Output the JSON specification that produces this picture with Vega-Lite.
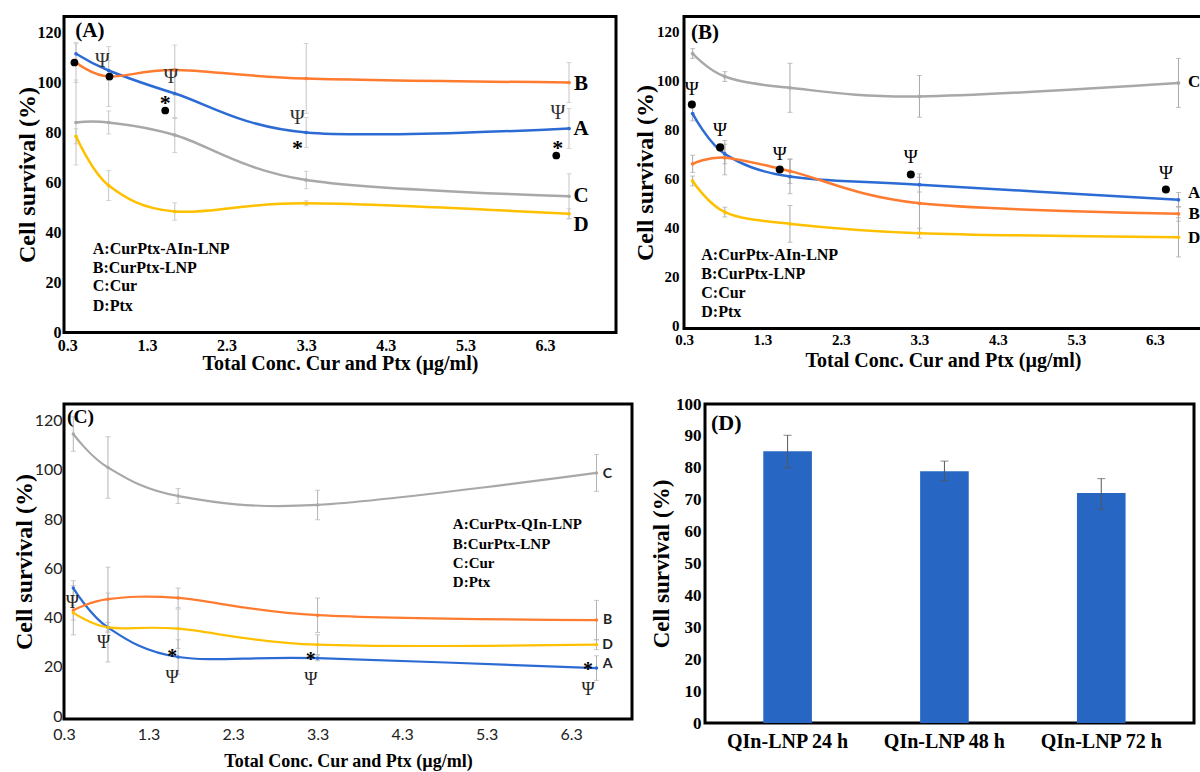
{
  "$schema": "https://vega.github.io/schema/vega-lite/v6.json",
  "background": "white",
  "padding": {"left": 10, "top": 14.5, "right": 0, "bottom": 0},
  "config": {"view": {"stroke": "black", "strokeWidth": 3}},
  "spacing": 17.5,
  "datasets": {
    "linesA": [
      {"s": "A", "x": 0.41, "y": 111.5, "lo": 107.5, "hi": 115.5},
      {"s": "A", "x": 0.82, "y": 104.8, "lo": 100.8, "hi": 108.8},
      {"s": "A", "x": 1.65, "y": 95.6, "lo": 85.6, "hi": 105.6},
      {"s": "A", "x": 3.3, "y": 80, "lo": 74, "hi": 86},
      {"s": "A", "x": 6.6, "y": 81.6, "lo": 73.6, "hi": 89.6},
      {"s": "B", "x": 0.41, "y": 108, "lo": 100, "hi": 116},
      {"s": "B", "x": 0.82, "y": 102.4, "lo": 90.4, "hi": 114.4},
      {"s": "B", "x": 1.65, "y": 105, "lo": 95, "hi": 115},
      {"s": "B", "x": 3.3, "y": 101.6, "lo": 87.6, "hi": 115.6},
      {"s": "B", "x": 6.6, "y": 100, "lo": 92, "hi": 108},
      {"s": "C", "x": 0.41, "y": 84, "lo": 67, "hi": 101},
      {"s": "C", "x": 0.82, "y": 84, "lo": 79.4, "hi": 88.6},
      {"s": "C", "x": 1.65, "y": 79, "lo": 72, "hi": 86},
      {"s": "C", "x": 3.3, "y": 61, "lo": 57.5, "hi": 64.5},
      {"s": "C", "x": 6.6, "y": 54.5, "lo": 45.5, "hi": 63.5},
      {"s": "D", "x": 0.41, "y": 78.5, "lo": 75.5, "hi": 81.5},
      {"s": "D", "x": 0.82, "y": 58.8, "lo": 52.8, "hi": 64.8},
      {"s": "D", "x": 1.65, "y": 48.4, "lo": 44.9, "hi": 51.9},
      {"s": "D", "x": 3.3, "y": 51.7, "lo": 50.7, "hi": 52.7},
      {"s": "D", "x": 6.6, "y": 47.5, "lo": 45.5, "hi": 49.5}
    ],
    "txtA": [
      {"k": "psi", "x": 0.74, "y": 108.8},
      {"k": "psi", "x": 1.6, "y": 102.4},
      {"k": "psi", "x": 3.19, "y": 86},
      {"k": "psi", "x": 6.46, "y": 88},
      {"k": "star", "x": 1.53, "y": 93.6},
      {"k": "star", "x": 3.19, "y": 75.5},
      {"k": "star", "x": 6.46, "y": 75.5},
      {"k": "dot", "x": 0.39, "y": 108},
      {"k": "dot", "x": 0.83, "y": 102.4},
      {"k": "dot", "x": 1.53, "y": 88.8},
      {"k": "dot", "x": 6.44, "y": 70.8},
      {"k": "letter", "t": "B", "x": 6.75, "y": 99.6},
      {"k": "letter", "t": "A", "x": 6.75, "y": 81.6},
      {"k": "letter", "t": "C", "x": 6.75, "y": 54.8},
      {"k": "letter", "t": "D", "x": 6.75, "y": 43.2},
      {"k": "legend", "t": "A:CurPtx-AIn-LNP", "x": 0.62, "y": 33.5},
      {"k": "legend", "t": "B:CurPtx-LNP", "x": 0.62, "y": 26},
      {"k": "legend", "t": "C:Cur", "x": 0.62, "y": 18.5},
      {"k": "legend", "t": "D:Ptx", "x": 0.62, "y": 10.8},
      {"k": "panel", "t": "(A)", "x": 0.4, "y": 120.8}
    ],
    "linesB": [
      {"s": "C", "x": 0.41, "y": 111, "lo": 109, "hi": 113},
      {"s": "C", "x": 0.82, "y": 101.6, "lo": 99.6, "hi": 103.6},
      {"s": "C", "x": 1.65, "y": 97, "lo": 87, "hi": 107},
      {"s": "C", "x": 3.3, "y": 93.5, "lo": 85, "hi": 102},
      {"s": "C", "x": 6.6, "y": 99, "lo": 89, "hi": 109},
      {"s": "A", "x": 0.41, "y": 86.5, "lo": 83.5, "hi": 89.5},
      {"s": "A", "x": 0.82, "y": 70, "lo": 66, "hi": 74},
      {"s": "A", "x": 1.65, "y": 60.8, "lo": 53.8, "hi": 67.8},
      {"s": "A", "x": 3.3, "y": 57.5, "lo": 54.5, "hi": 60.5},
      {"s": "A", "x": 6.6, "y": 51.3, "lo": 48.3, "hi": 54.3},
      {"s": "B", "x": 0.41, "y": 66, "lo": 62.5, "hi": 69.5},
      {"s": "B", "x": 0.82, "y": 68.5, "lo": 61.5, "hi": 75.5},
      {"s": "B", "x": 1.65, "y": 63, "lo": 58, "hi": 68},
      {"s": "B", "x": 3.3, "y": 49.9, "lo": 37.9, "hi": 61.9},
      {"s": "B", "x": 6.6, "y": 45.6, "lo": 42.6, "hi": 48.6},
      {"s": "D", "x": 0.41, "y": 59, "lo": 57, "hi": 61},
      {"s": "D", "x": 0.82, "y": 46.3, "lo": 44.3, "hi": 48.3},
      {"s": "D", "x": 1.65, "y": 41.5, "lo": 34, "hi": 49},
      {"s": "D", "x": 3.3, "y": 37.7, "lo": 35.7, "hi": 39.7},
      {"s": "D", "x": 6.6, "y": 36, "lo": 28, "hi": 44}
    ],
    "txtB": [
      {"k": "psi", "x": 0.4, "y": 96.7},
      {"k": "psi", "x": 0.76, "y": 79.6},
      {"k": "psi", "x": 1.52, "y": 70},
      {"k": "psi", "x": 3.19, "y": 68.6},
      {"k": "psi", "x": 6.44, "y": 62.4},
      {"k": "dot", "x": 0.4, "y": 90.2},
      {"k": "dot", "x": 0.76, "y": 72.7},
      {"k": "dot", "x": 1.52, "y": 63.7},
      {"k": "dot", "x": 3.19, "y": 61.6},
      {"k": "dot", "x": 6.44, "y": 55.5},
      {"k": "letter", "t": "C", "x": 6.8, "y": 99.2},
      {"k": "letter", "t": "A", "x": 6.8, "y": 53.9},
      {"k": "letter", "t": "B", "x": 6.8, "y": 45.7},
      {"k": "letter", "t": "D", "x": 6.8, "y": 35.9},
      {"k": "legend", "t": "A:CurPtx-AIn-LNP", "x": 0.52, "y": 28.6},
      {"k": "legend", "t": "B:CurPtx-LNP", "x": 0.52, "y": 21.1},
      {"k": "legend", "t": "C:Cur", "x": 0.52, "y": 13.2},
      {"k": "legend", "t": "D:Ptx", "x": 0.52, "y": 5.4},
      {"k": "panel", "t": "(B)", "x": 0.39, "y": 119.4}
    ],
    "linesC": [
      {"s": "C", "x": 0.41, "y": 114.6, "lo": 107.6, "hi": 121.6},
      {"s": "C", "x": 0.82, "y": 101, "lo": 88.5, "hi": 113.5},
      {"s": "C", "x": 1.65, "y": 89.4, "lo": 86.4, "hi": 92.4},
      {"s": "C", "x": 3.3, "y": 85.8, "lo": 79.8, "hi": 91.8},
      {"s": "C", "x": 6.6, "y": 98.8, "lo": 91.3, "hi": 106.3},
      {"s": "A", "x": 0.41, "y": 52, "lo": 49, "hi": 55},
      {"s": "A", "x": 0.82, "y": 36, "lo": 34, "hi": 38},
      {"s": "A", "x": 1.65, "y": 24, "lo": 17, "hi": 31},
      {"s": "A", "x": 3.3, "y": 23.5, "lo": 22.5, "hi": 24.5},
      {"s": "A", "x": 6.6, "y": 19.5, "lo": 14.5, "hi": 24.5},
      {"s": "B", "x": 0.41, "y": 43, "lo": 33, "hi": 53},
      {"s": "B", "x": 0.82, "y": 47.5, "lo": 34.5, "hi": 60.5},
      {"s": "B", "x": 1.65, "y": 48, "lo": 44, "hi": 52},
      {"s": "B", "x": 3.3, "y": 41, "lo": 34, "hi": 48},
      {"s": "B", "x": 6.6, "y": 39, "lo": 31, "hi": 47},
      {"s": "D", "x": 0.41, "y": 42, "lo": 39, "hi": 45},
      {"s": "D", "x": 0.82, "y": 36, "lo": 22, "hi": 50},
      {"s": "D", "x": 1.65, "y": 35.5, "lo": 27.5, "hi": 43.5},
      {"s": "D", "x": 3.3, "y": 29, "lo": 25, "hi": 33},
      {"s": "D", "x": 6.6, "y": 29, "lo": 27, "hi": 31}
    ],
    "txtC": [
      {"k": "psi", "x": 0.4, "y": 46},
      {"k": "psi", "x": 0.77, "y": 29.5},
      {"k": "psi", "x": 1.58, "y": 15.5},
      {"k": "psi", "x": 3.22, "y": 14.5},
      {"k": "psi", "x": 6.5, "y": 10.5},
      {"k": "star", "x": 1.58, "y": 25.5},
      {"k": "star", "x": 3.22, "y": 24.5},
      {"k": "star", "x": 6.5, "y": 20.5},
      {"k": "letter", "t": "C", "x": 6.73, "y": 98.4},
      {"k": "letter", "t": "B", "x": 6.73, "y": 39},
      {"k": "letter", "t": "D", "x": 6.73, "y": 29},
      {"k": "letter", "t": "A", "x": 6.73, "y": 21},
      {"k": "legend", "t": "A:CurPtx-QIn-LNP", "x": 4.9, "y": 78},
      {"k": "legend", "t": "B:CurPtx-LNP", "x": 4.9, "y": 69.9},
      {"k": "legend", "t": "C:Cur", "x": 4.9, "y": 62.2},
      {"k": "legend", "t": "D:Ptx", "x": 4.9, "y": 54.5},
      {"k": "panel", "t": "(C)", "x": 0.335, "y": 121.5}
    ],
    "barsD": [
      {"c": "QIn-LNP 24 h", "v": 85.2, "lo": 80, "hi": 90.2},
      {"c": "QIn-LNP 48 h", "v": 78.9, "lo": 76, "hi": 82.1},
      {"c": "QIn-LNP 72 h", "v": 72.1, "lo": 67, "hi": 76.6}
    ]
  },
  "vconcat": [
    {
      "spacing": 14,
      "hconcat": [
        {
          "width": 552,
          "height": 316,
          "layer": [
            {
              "data": {"name": "linesA"},
              "mark": {"type": "errorbar", "color": "#C4C4C4", "thickness": 1, "ticks": {"size": 5}},
              "encoding": {
                "x": {"field": "x", "type": "quantitative", "scale": {"domain": [0.259, 7.19], "nice": false, "zero": false},
                  "axis": {"values": [0.3, 1.3, 2.3, 3.3, 4.3, 5.3, 6.3], "format": ".1f", "title": "Total Conc. Cur and Ptx (µg/ml)", "titleFont": "Liberation Serif", "titleFontSize": 20, "titleFontWeight": "bold", "titleColor": "black", "titlePadding": 0.5, "labelFont": "Liberation Serif", "labelFontSize": 16, "labelFontWeight": "bold", "labelColor": "black", "labelPadding": 4.5, "ticks": false, "domain": false, "grid": false, "labelFlush": false}},
                "y": {"field": "lo", "type": "quantitative", "scale": {"domain": [0, 126.4], "nice": false, "zero": false},
                  "axis": {"values": [0, 20, 40, 60, 80, 100, 120], "title": "Cell survival (%)", "titleFont": "Liberation Serif", "titleFontSize": 24, "titleFontWeight": "bold", "titleColor": "black", "titlePadding": 3, "minExtent": 22, "maxExtent": 22, "labelFont": "Liberation Serif", "labelFontSize": 16, "labelFontWeight": "bold", "labelColor": "black", "labelPadding": 3, "ticks": false, "domain": false, "grid": false, "labelFlush": false}},
                "y2": {"field": "hi"}
              }
            },
            {
              "data": {"name": "linesA"},
              "mark": {"type": "line", "interpolate": "cardinal", "tension": 0, "strokeWidth": 2.5, "point": {"size": 14, "filled": true, "opacity": 1}},
              "encoding": {
                "x": {"field": "x", "type": "quantitative"},
                "y": {"field": "y", "type": "quantitative"},
                "color": {"field": "s", "type": "nominal", "scale": {"domain": ["A", "B", "C", "D"], "range": ["#2C6BD3", "#FF7B30", "#A8A8A8", "#FFC000"]}, "legend": null}
              }
            },
            {
              "data": {"name": "txtA"},
              "transform": [{"filter": "datum.k === 'dot'"}],
              "mark": {"type": "circle", "color": "black", "size": 60, "opacity": 1},
              "encoding": {"x": {"field": "x", "type": "quantitative"}, "y": {"field": "y", "type": "quantitative"}}
            },
            {
              "data": {"name": "txtA"},
              "transform": [{"filter": "datum.k === 'psi'"}],
              "mark": {"type": "text", "text": "Ψ", "font": "Liberation Serif", "fontSize": 20, "color": "#333333", "baseline": "middle"},
              "encoding": {"x": {"field": "x", "type": "quantitative"}, "y": {"field": "y", "type": "quantitative"}}
            },
            {
              "data": {"name": "txtA"},
              "transform": [{"filter": "datum.k === 'star'"}],
              "mark": {"type": "text", "text": "*", "font": "Liberation Serif", "fontSize": 22, "fontWeight": "bold", "color": "black", "baseline": "middle", "dy": 4},
              "encoding": {"x": {"field": "x", "type": "quantitative"}, "y": {"field": "y", "type": "quantitative"}}
            },
            {
              "data": {"name": "txtA"},
              "transform": [{"filter": "datum.k === 'letter'"}],
              "mark": {"type": "text", "font": "Liberation Serif", "fontSize": 21, "fontWeight": "bold", "color": "black", "baseline": "middle", "align": "center"},
              "encoding": {"x": {"field": "x", "type": "quantitative"}, "y": {"field": "y", "type": "quantitative"}, "text": {"field": "t"}}
            },
            {
              "data": {"name": "txtA"},
              "transform": [{"filter": "datum.k === 'legend'"}],
              "mark": {"type": "text", "font": "Liberation Serif", "fontSize": 16, "fontWeight": "bold", "color": "black", "baseline": "middle", "align": "left"},
              "encoding": {"x": {"field": "x", "type": "quantitative"}, "y": {"field": "y", "type": "quantitative"}, "text": {"field": "t"}}
            },
            {
              "data": {"name": "txtA"},
              "transform": [{"filter": "datum.k === 'panel'"}],
              "mark": {"type": "text", "font": "Liberation Serif", "fontSize": 21, "fontWeight": "bold", "color": "black", "baseline": "middle", "align": "left"},
              "encoding": {"x": {"field": "x", "type": "quantitative"}, "y": {"field": "y", "type": "quantitative"}, "text": {"field": "t"}}
            }
          ]
        },
        {
          "width": 518,
          "height": 312,
          "layer": [
            {
              "data": {"name": "linesB"},
              "mark": {"type": "errorbar", "color": "#A8A8A8", "thickness": 1, "ticks": {"size": 5}},
              "encoding": {
                "x": {"field": "x", "type": "quantitative", "scale": {"domain": [0.3, 6.9], "nice": false, "zero": false},
                  "axis": {"values": [0.3, 1.3, 2.3, 3.3, 4.3, 5.3, 6.3], "format": ".1f", "title": "Total Conc. Cur and Ptx (µg/ml)", "titleFont": "Liberation Serif", "titleFontSize": 20, "titleFontWeight": "bold", "titleColor": "black", "titlePadding": 3, "labelFont": "Liberation Serif", "labelFontSize": 15, "labelFontWeight": "bold", "labelColor": "black", "labelPadding": 4, "ticks": false, "domain": false, "grid": false, "labelFlush": false}},
                "y": {"field": "lo", "type": "quantitative", "scale": {"domain": [-1.2, 126.1], "nice": false, "zero": false},
                  "axis": {"values": [0, 20, 40, 60, 80, 100, 120], "title": "Cell survival (%)", "titleFont": "Liberation Serif", "titleFontSize": 24, "titleFontWeight": "bold", "titleColor": "black", "titlePadding": 2.5, "minExtent": 24, "maxExtent": 24, "labelFont": "Liberation Serif", "labelFontSize": 15, "labelFontWeight": "bold", "labelColor": "black", "labelPadding": 5, "ticks": false, "domain": false, "grid": false, "labelFlush": false}},
                "y2": {"field": "hi"}
              }
            },
            {
              "data": {"name": "linesB"},
              "mark": {"type": "line", "interpolate": "cardinal", "tension": 0, "strokeWidth": 2.5, "point": {"size": 14, "filled": true, "opacity": 1}},
              "encoding": {
                "x": {"field": "x", "type": "quantitative"},
                "y": {"field": "y", "type": "quantitative"},
                "color": {"field": "s", "type": "nominal", "scale": {"domain": ["A", "B", "C", "D"], "range": ["#2C6BD3", "#FF7B30", "#A8A8A8", "#FFC000"]}, "legend": null}
              }
            },
            {
              "data": {"name": "txtB"},
              "transform": [{"filter": "datum.k === 'dot'"}],
              "mark": {"type": "circle", "color": "black", "size": 65, "opacity": 1},
              "encoding": {"x": {"field": "x", "type": "quantitative"}, "y": {"field": "y", "type": "quantitative"}}
            },
            {
              "data": {"name": "txtB"},
              "transform": [{"filter": "datum.k === 'psi'"}],
              "mark": {"type": "text", "text": "Ψ", "font": "Liberation Serif", "fontSize": 19, "color": "black", "baseline": "middle"},
              "encoding": {"x": {"field": "x", "type": "quantitative"}, "y": {"field": "y", "type": "quantitative"}}
            },
            {
              "data": {"name": "txtB"},
              "transform": [{"filter": "datum.k === 'letter'"}],
              "mark": {"type": "text", "font": "Liberation Serif", "fontSize": 17, "fontWeight": "bold", "color": "black", "baseline": "middle", "align": "center"},
              "encoding": {"x": {"field": "x", "type": "quantitative"}, "y": {"field": "y", "type": "quantitative"}, "text": {"field": "t"}}
            },
            {
              "data": {"name": "txtB"},
              "transform": [{"filter": "datum.k === 'legend'"}],
              "mark": {"type": "text", "font": "Liberation Serif", "fontSize": 16, "fontWeight": "bold", "color": "black", "baseline": "middle", "align": "left"},
              "encoding": {"x": {"field": "x", "type": "quantitative"}, "y": {"field": "y", "type": "quantitative"}, "text": {"field": "t"}}
            },
            {
              "data": {"name": "txtB"},
              "transform": [{"filter": "datum.k === 'panel'"}],
              "mark": {"type": "text", "font": "Liberation Serif", "fontSize": 21, "fontWeight": "bold", "color": "black", "baseline": "middle", "align": "left"},
              "encoding": {"x": {"field": "x", "type": "quantitative"}, "y": {"field": "y", "type": "quantitative"}, "text": {"field": "t"}}
            }
          ]
        }
      ]
    },
    {
      "spacing": 15,
      "hconcat": [
        {
          "width": 568,
          "height": 315,
          "layer": [
            {
              "data": {"name": "linesC"},
              "mark": {"type": "errorbar", "color": "#B4B4B4", "thickness": 1, "ticks": {"size": 5}},
              "encoding": {
                "x": {"field": "x", "type": "quantitative", "scale": {"domain": [0.3, 7.02], "nice": false, "zero": false},
                  "axis": {"values": [0.3, 1.3, 2.3, 3.3, 4.3, 5.3, 6.3], "format": ".1f", "title": "Total Conc. Cur and Ptx (µg/ml)", "titleFont": "Liberation Serif", "titleFontSize": 18, "titleFontWeight": "bold", "titleColor": "black", "titlePadding": 10, "labelFont": "Lato", "labelFontSize": 16, "labelColor": "#222222", "labelPadding": 7, "ticks": false, "domain": false, "grid": false, "labelFlush": false}},
                "y": {"field": "lo", "type": "quantitative", "scale": {"domain": [-1.2, 126.8], "nice": false, "zero": false},
                  "axis": {"values": [0, 20, 40, 60, 80, 100, 120], "title": "Cell survival (%)", "titleFont": "Liberation Serif", "titleFontSize": 24, "titleFontWeight": "bold", "titleColor": "black", "titlePadding": 2, "minExtent": 26, "maxExtent": 26, "labelFont": "Lato", "labelFontSize": 16, "labelColor": "#222222", "labelPadding": 2, "ticks": false, "domain": false, "grid": false, "labelFlush": false}},
                "y2": {"field": "hi"}
              }
            },
            {
              "data": {"name": "linesC"},
              "mark": {"type": "line", "interpolate": "cardinal", "tension": 0, "strokeWidth": 2.2, "point": {"size": 12, "filled": true, "opacity": 1}},
              "encoding": {
                "x": {"field": "x", "type": "quantitative"},
                "y": {"field": "y", "type": "quantitative"},
                "color": {"field": "s", "type": "nominal", "scale": {"domain": ["A", "B", "C", "D"], "range": ["#2C6BD3", "#FF7B30", "#A8A8A8", "#FFC000"]}, "legend": null}
              }
            },
            {
              "data": {"name": "txtC"},
              "transform": [{"filter": "datum.k === 'psi'"}],
              "mark": {"type": "text", "text": "Ψ", "font": "Liberation Serif", "fontSize": 18, "color": "#222222", "baseline": "middle"},
              "encoding": {"x": {"field": "x", "type": "quantitative"}, "y": {"field": "y", "type": "quantitative"}}
            },
            {
              "data": {"name": "txtC"},
              "transform": [{"filter": "datum.k === 'star'"}],
              "mark": {"type": "text", "text": "*", "font": "Liberation Serif", "fontSize": 20, "fontWeight": "bold", "color": "black", "baseline": "middle", "dy": 4},
              "encoding": {"x": {"field": "x", "type": "quantitative"}, "y": {"field": "y", "type": "quantitative"}}
            },
            {
              "data": {"name": "txtC"},
              "transform": [{"filter": "datum.k === 'letter'"}],
              "mark": {"type": "text", "font": "Lato", "fontSize": 14, "fontWeight": "bold", "color": "#222222", "baseline": "middle", "align": "center"},
              "encoding": {"x": {"field": "x", "type": "quantitative"}, "y": {"field": "y", "type": "quantitative"}, "text": {"field": "t"}}
            },
            {
              "data": {"name": "txtC"},
              "transform": [{"filter": "datum.k === 'legend'"}],
              "mark": {"type": "text", "font": "Liberation Serif", "fontSize": 15, "fontWeight": "bold", "color": "black", "baseline": "middle", "align": "left"},
              "encoding": {"x": {"field": "x", "type": "quantitative"}, "y": {"field": "y", "type": "quantitative"}, "text": {"field": "t"}}
            },
            {
              "data": {"name": "txtC"},
              "transform": [{"filter": "datum.k === 'panel'"}],
              "mark": {"type": "text", "font": "Liberation Serif", "fontSize": 19.5, "fontWeight": "bold", "color": "black", "baseline": "middle", "align": "left"},
              "encoding": {"x": {"field": "x", "type": "quantitative"}, "y": {"field": "y", "type": "quantitative"}, "text": {"field": "t"}}
            }
          ]
        },
        {
          "width": 489,
          "height": 319,
          "title": {"text": "(D)", "anchor": "start", "frame": "group", "offset": -40, "dx": 6, "font": "Liberation Serif", "fontSize": 22, "fontWeight": "bold", "color": "black"},
          "data": {"name": "barsD"},
          "layer": [
            {
              "mark": {"type": "bar", "color": "#2767C3"},
              "encoding": {
                "x": {"field": "c", "type": "nominal", "sort": null, "scale": {"paddingInner": 0.69, "paddingOuter": 0.404, "align": 0.46},
                  "axis": {"title": null, "labelAngle": 0, "labelFont": "Liberation Serif", "labelFontSize": 20, "labelFontWeight": "bold", "labelColor": "black", "labelPadding": 8, "ticks": false, "domain": false, "grid": false}},
                "y": {"field": "v", "type": "quantitative", "scale": {"domain": [0, 100], "nice": false, "zero": true},
                  "axis": {"values": [0, 10, 20, 30, 40, 50, 60, 70, 80, 90, 100], "title": "Cell survival (%)", "titleFont": "Liberation Serif", "titleFontSize": 23, "titleFontWeight": "bold", "titleColor": "black", "titlePadding": 3.5, "minExtent": 28, "maxExtent": 28, "labelFont": "Liberation Serif", "labelFontSize": 17, "labelFontWeight": "bold", "labelColor": "black", "labelPadding": 4, "ticks": false, "domain": false, "grid": false, "labelFlush": false, "labelOverlap": false}}
              }
            },
            {
              "mark": {"type": "errorbar", "color": "#555555", "thickness": 1, "ticks": {"size": 8}},
              "encoding": {
                "x": {"field": "c", "type": "nominal", "sort": null},
                "y": {"field": "lo", "type": "quantitative",
                  "axis": {"values": [0, 10, 20, 30, 40, 50, 60, 70, 80, 90, 100], "title": "Cell survival (%)", "titleFont": "Liberation Serif", "titleFontSize": 23, "titleFontWeight": "bold", "titleColor": "black", "titlePadding": 3.5, "minExtent": 28, "maxExtent": 28, "labelFont": "Liberation Serif", "labelFontSize": 17, "labelFontWeight": "bold", "labelColor": "black", "labelPadding": 4, "ticks": false, "domain": false, "grid": false, "labelFlush": false, "labelOverlap": false}},
                "y2": {"field": "hi"}
              }
            }
          ]
        }
      ]
    }
  ]
}
